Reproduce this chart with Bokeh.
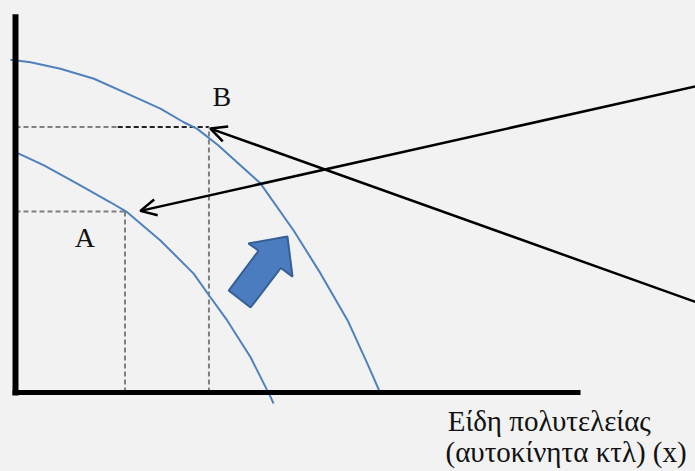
from bokeh.plotting import figure
from bokeh.models import Range1d, Arrow, OpenHead
from bokeh.embed import file_html
from bokeh.resources import INLINE
from bokeh.core.properties import value

# ---- data (units: x = luxury goods, y = necessities) ----
outer_x = [-0.14, 0.41, 1.23, 2.15, 3.06, 3.97, 4.61, 4.98, 5.56, 6.71, 7.62, 8.36, 9.10, 9.64, 10.0]
outer_y = [10.02, 9.95, 9.75, 9.45, 9.00, 8.55, 8.14, 7.94, 7.44, 6.30, 4.88, 3.58, 2.17, 0.87, -0.03]

inner_x = [0.0, 0.78, 1.69, 2.60, 3.06, 3.97, 4.88, 5.34, 5.80, 6.44, 6.99, 7.07]
inner_y = [7.24, 6.84, 6.29, 5.73, 5.43, 4.58, 3.58, 2.87, 2.17, 1.06, -0.14, -0.33]

point_A = (3.0, 5.45)
point_B = (5.3, 8.0)

label_A = "A"
label_B = "B"
x_label_lines = ["Είδη πολυτελείας", "(αυτοκίνητα κτλ) (x)"]

# shift arrow (block) polygon
shift_x = [7.45, 6.38, 6.66, 5.84, 6.44, 7.27, 7.59]
shift_y = [4.70, 4.49, 4.27, 3.07, 2.56, 3.75, 3.49]

# annotation arrows: start (off to the right) -> tip near A / B
arrow_to_A = ((18.7, 9.24), (3.42, 5.47))
arrow_to_B = ((18.7, 2.70), (5.34, 7.95))

# axis extents
y_axis_top = 11.39
x_axis_right = 15.48

BG = "#f2f2f2"
CURVE = "#4f81bd"
GRAY = "#7f7f7f"
SERIF = value("Liberation Serif")

p = figure(width=695, height=471, output_backend="svg", toolbar_location=None,
           x_range=Range1d(-0.411, 18.63), y_range=Range1d(-2.3795, 11.807),
           x_axis_location=None, y_axis_location=None, min_border=0,
           background_fill_color=BG, border_fill_color=BG, outline_line_color=None)
p.grid.visible = False

# dashed guide lines
ax, ay = point_A
bx, by = point_B
p.line([0, ax], [ay, ay], line_color=GRAY, line_width=2, line_dash="5 3")
p.line([ax, ax], [0, ay], line_color=GRAY, line_width=2, line_dash="5 3")
p.line([0, 2.8], [by, by], line_color=GRAY, line_width=2, line_dash="5 3")
p.line([2.8, bx], [by, by], line_color="#222222", line_width=2, line_dash="5 3")
p.line([bx, bx], [0, by], line_color=GRAY, line_width=2, line_dash="5 3")

# production possibility curves
p.line(outer_x, outer_y, line_color=CURVE, line_width=2, line_join="round")
p.line(inner_x, inner_y, line_color=CURVE, line_width=2, line_join="round")

# axes
p.line([0, 0], [y_axis_top, -0.09], line_color="black", line_width=6)
p.line([-0.08, x_axis_right], [0, 0], line_color="black", line_width=5)

# block shift arrow
p.patch(shift_x, shift_y, fill_color="#4a7cbf", line_color="#355f95", line_width=2)

# black arrows
for (s, e) in (arrow_to_A, arrow_to_B):
    p.add_layout(Arrow(x_start=s[0], y_start=s[1], x_end=e[0], y_end=e[1],
                       line_color="black", line_width=2.5,
                       end=OpenHead(size=16, line_color="black", line_width=2.5)))

# labels
p.text(x=[5.40], y=[8.91], text=[label_B], text_font=SERIF, text_font_size="28px",
       text_color="#111111", text_baseline="alphabetic", text_align="left")
p.text(x=[1.62], y=[4.67], text=[label_A], text_font=SERIF, text_font_size="28px",
       text_color="#111111", text_baseline="alphabetic", text_align="left")
p.text(x=[11.84, 11.78], y=[-0.86, -1.80], text=x_label_lines, text_font=SERIF,
       text_font_size="29px", text_color="#111111", text_baseline="alphabetic",
       text_align="left")

html = file_html(p, INLINE)
html = html.replace("</head>", "<style>html, body { background: #f2f2f2; margin: 0; }</style></head>", 1)
open("out.html", "w").write(html)
